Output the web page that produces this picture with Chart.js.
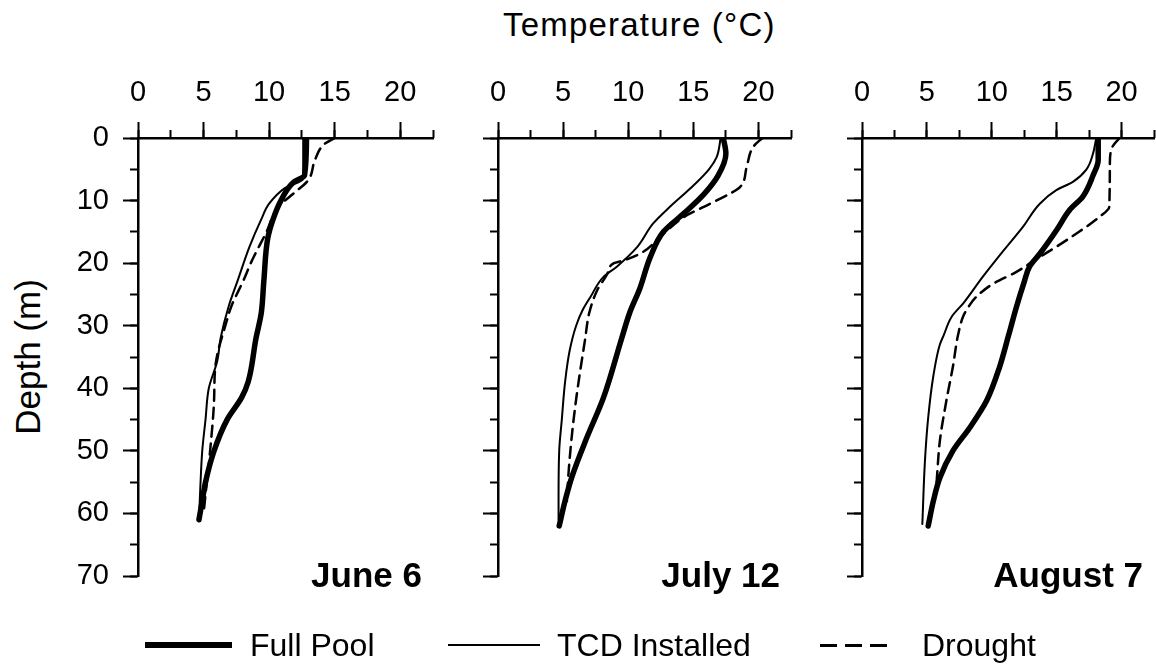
<!DOCTYPE html>
<html>
<head>
<meta charset="utf-8">
<script src="https://cdn.jsdelivr.net/npm/chart.js@4/dist/chart.umd.min.js"></script>
<style>
  html, body { margin:0; padding:0; background:#fff; }
  body { width:1156px; height:668px; position:relative; overflow:hidden; font-family:"Liberation Sans", Arial, sans-serif; color:#000; }
  canvas { position:absolute; top:0; }
  .txt { position:absolute; white-space:nowrap; }
</style>
</head>
<body>
<div class="txt" id="title" style="left:503px; top:8px; font-size:33px; line-height:33px; letter-spacing:1.2px;">Temperature (°C)</div>
<div class="txt" id="ytitle" style="left:27px; top:357px; font-size:35px; line-height:35px; transform:translate(-50%,-50%) rotate(-90deg);">Depth (m)</div>

<canvas id="c1"></canvas>
<canvas id="c2"></canvas>
<canvas id="c3"></canvas>

<div id="legend"></div>

<script>
// ---------------- DATA ----------------
const panelLabels = ['June 6', 'July 12', 'August 7'];
const seriesNames = ['Full Pool', 'TCD Installed', 'Drought'];
const tempTicks = [0, 5, 10, 15, 20];
const depthTicks = [0, 10, 20, 30, 40, 50, 60, 70];

// June 6
const junFullDepth = [0, 6, 7, 10, 13, 16, 22.8, 28, 32, 39, 41.5, 45, 50, 55, 58, 61];
const junFullTemp  = [12.85, 12.7, 11.9, 10.9, 10.3, 9.9, 9.6, 9.4, 9.0, 8.4, 7.9, 6.8, 5.8, 5.15, 4.9, 4.65];
const junTcdDepth  = [0, 6.5, 8, 10.5, 13, 17.4, 22.8, 27, 32, 35.6, 40, 45, 50, 56, 61];
const junTcdTemp   = [12.6, 12.6, 11.2, 10.0, 9.4, 8.5, 7.6, 6.9, 6.3, 6.05, 5.4, 5.15, 4.9, 4.75, 4.65];
const junDryDepth  = [0, 1, 3.5, 6.7, 8.8, 11, 15, 20, 22.5, 27, 29, 36.5, 42, 50, 57, 60];
const junDryTemp   = [15.0, 14.2, 13.5, 13.0, 11.9, 10.7, 9.8, 8.6, 8.1, 7.1, 6.8, 5.9, 5.8, 5.5, 5.15, 5.0];

// July 12
const julFullDepth = [0, 2.5, 6, 9, 12, 15, 19, 24, 28, 32, 41.5, 48, 54, 58, 62];
const julFullTemp  = [17.3, 17.5, 16.9, 15.8, 14.3, 12.7, 11.7, 10.9, 10.1, 9.5, 8.1, 6.8, 5.7, 5.15, 4.7];
const julTcdDepth  = [0, 3, 5, 8, 11, 13.7, 17.4, 20.6, 22.2, 25.4, 27.5, 30, 34, 39, 45, 50, 58, 61];
const julTcdTemp   = [17.1, 16.8, 16.2, 14.8, 13.2, 11.9, 10.7, 9.1, 8.1, 7.1, 6.5, 6.0, 5.5, 5.15, 4.9, 4.7, 4.65, 4.65];
const julDryDepth  = [0, 1.4, 4.6, 7.8, 8.9, 11, 12.6, 15.3, 18.5, 19.6, 20, 21.7, 24.4, 28, 32, 41, 47, 54, 58];
const julDryTemp   = [20.3, 19.6, 19.1, 18.6, 17.8, 15.8, 14.3, 12.7, 10.9, 9.6, 8.9, 8.4, 7.6, 7.0, 6.7, 6.05, 5.7, 5.4, 5.3];

// August 7
const augFullDepth = [0, 3.5, 6, 9.4, 11.5, 14.7, 18.5, 20.6, 23, 27, 31.5, 36.6, 42, 46.3, 50, 54.3, 58, 62];
const augFullTemp  = [18.2, 18.2, 17.8, 17.0, 16.0, 15.0, 13.7, 12.9, 12.5, 11.9, 11.3, 10.6, 9.6, 8.3, 7.0, 6.0, 5.5, 5.1];
const augTcdDepth  = [0, 2.5, 5, 7, 8.3, 10.5, 14.2, 18, 22.2, 26.3, 28.6, 31.5, 33, 38, 44.7, 51.6, 61.7];
const augTcdTemp   = [18.05, 17.8, 17.3, 16.25, 15.0, 13.7, 12.4, 10.9, 9.3, 7.85, 6.9, 6.3, 6.0, 5.5, 5.1, 4.85, 4.65];
const augDryDepth  = [0, 1.4, 4, 11, 12.6, 15.3, 18, 19, 21.4, 23.3, 25.4, 27, 28.5, 31.5, 36.6, 42, 48.4, 55];
const augDryTemp   = [19.85, 19.3, 19.1, 19.05, 18.3, 16.5, 14.5, 13.7, 11.9, 10.1, 8.8, 8.2, 7.8, 7.4, 7.0, 6.5, 6.0, 5.75];

// ---------------- STYLE / LAYOUT ----------------
const FONT = '"Liberation Sans", Arial, sans-serif';
const seriesStyles = [
  { borderWidth: 5.5, borderDash: [] },
  { borderWidth: 2, borderDash: [] },
  { borderWidth: 2.5, borderDash: [11, 7] }
];
const AXIS_W = 138, AXIS_H = 138, BOTTOM_PAD = 92;
const panels = [
  { id: 'c1', left: 138, width: 295, padR: 10, yLabels: true },
  { id: 'c2', left: 498, width: 293, padR: 10, yLabels: false },
  { id: 'c3', left: 862, width: 292, padR: 2,  yLabels: false }
];

function pts(depths, temps) {
  return depths.map((d, i) => ({ x: temps[i], y: d }));
}
const panelData = [
  [pts(junFullDepth, junFullTemp), pts(junTcdDepth, junTcdTemp), pts(junDryDepth, junDryTemp)],
  [pts(julFullDepth, julFullTemp), pts(julTcdDepth, julTcdTemp), pts(julDryDepth, julDryTemp)],
  [pts(augFullDepth, augFullTemp), pts(augTcdDepth, augTcdTemp), pts(augDryDepth, augDryTemp)]
];

const dateLabelPlugin = {
  id: 'dateLabel',
  afterDraw(chart, args, opts) {
    const { ctx, chartArea } = chart;
    ctx.save();
    ctx.font = 'bold 35px ' + FONT;
    ctx.fillStyle = '#000';
    ctx.textAlign = 'right';
    ctx.textBaseline = 'alphabetic';
    ctx.fillText(opts.text, chartArea.right - 11, chartArea.bottom + 11);
    ctx.restore();
  }
};

panels.forEach((p, idx) => {
  const canvas = document.getElementById(p.id);
  const cw = AXIS_W + p.width + p.padR;
  canvas.width = cw; canvas.height = 668;
  canvas.style.width = cw + 'px'; canvas.style.height = '668px';
  canvas.style.left = (p.left - AXIS_W) + 'px';

  const datasets = panelData[idx].map((data, s) => ({
    label: seriesNames[s],
    data: data,
    borderColor: '#000',
    backgroundColor: '#000',
    borderWidth: seriesStyles[s].borderWidth,
    borderDash: seriesStyles[s].borderDash,
    borderCapStyle: 'round',
    borderJoinStyle: 'round',
    pointRadius: 0,
    fill: false,
    cubicInterpolationMode: 'monotone',
    xAxisID: 'x',
    yAxisID: 'y'
  }));

  new Chart(canvas, {
    type: 'line',
    data: { datasets },
    plugins: [dateLabelPlugin],
    options: {
      indexAxis: 'y',
      responsive: false,
      animation: false,
      devicePixelRatio: 1,
      layout: { padding: { top: 0, left: 0, right: p.padR, bottom: BOTTOM_PAD } },
      plugins: {
        legend: { display: false },
        tooltip: { enabled: false },
        dateLabel: { text: panelLabels[idx] }
      },
      scales: {
        x: {
          type: 'linear', position: 'top', min: 0, max: 22.5, weight: 1,
          afterFit: s => { s.height = AXIS_H; },
          afterBuildTicks: s => { s.ticks = tempTicks.map(v => ({ value: v })); },
          border: { display: true, color: '#000', width: 2.5 },
          grid: { drawOnChartArea: false, drawTicks: true, tickLength: 16, tickWidth: 2, tickColor: '#000' },
          ticks: { color: '#000', font: { family: FONT, size: 29 }, padding: 12, maxRotation: 0, autoSkip: false, includeBounds: false }
        },
        x2: {
          type: 'linear', axis: 'x', position: 'top', min: 0, max: 22.5, weight: 0,
          afterFit: s => { s.height = 0; },
          border: { display: false },
          grid: { drawOnChartArea: false, drawTicks: true, tickLength: 8, tickWidth: 2, tickColor: '#000' },
          ticks: { stepSize: 2.5, display: false, autoSkip: false }
        },
        y: {
          type: 'linear', position: 'left', min: 0, max: 70, reverse: true, weight: 1,
          afterFit: s => { s.width = AXIS_W; },
          afterBuildTicks: s => { s.ticks = depthTicks.map(v => ({ value: v })); },
          border: { display: true, color: '#000', width: 2.5 },
          grid: { drawOnChartArea: false, drawTicks: true, tickLength: 15, tickWidth: 2, tickColor: '#000' },
          ticks: { display: p.yLabels, color: '#000', font: { family: FONT, size: 29 }, padding: 14, autoSkip: false }
        },
        y2: {
          type: 'linear', axis: 'y', position: 'left', min: 0, max: 70, reverse: true, weight: 0,
          afterFit: s => { s.width = 0; },
          border: { display: false },
          grid: { drawOnChartArea: false, drawTicks: true, tickLength: 8, tickWidth: 2, tickColor: '#000' },
          ticks: { stepSize: 5, display: false, autoSkip: false }
        }
      }
    }
  });
});

// ---------------- LEGEND (HTML) ----------------
const legendItems = [
  { name: seriesNames[0], lineLeft: 145, lineWidth: 87, thick: 6, dashed: false, textLeft: 250 },
  { name: seriesNames[1], lineLeft: 448, lineWidth: 92, thick: 2.5, dashed: false, textLeft: 557 },
  { name: seriesNames[2], lineLeft: 820, lineWidth: 67, thick: 3, dashed: true, textLeft: 922 }
];
const legend = document.getElementById('legend');
legendItems.forEach(it => {
  const line = document.createElement('div');
  line.style.position = 'absolute';
  line.style.left = it.lineLeft + 'px';
  line.style.top = (645 - it.thick / 2) + 'px';
  line.style.width = it.lineWidth + 'px';
  line.style.height = it.thick + 'px';
  line.style.background = it.dashed
    ? 'repeating-linear-gradient(to right, #000 0 17px, transparent 17px 25px)'
    : '#000';
  legend.appendChild(line);
  const t = document.createElement('div');
  t.className = 'txt';
  t.style.left = it.textLeft + 'px';
  t.style.top = '627px';
  t.style.fontSize = '32px';
  t.style.lineHeight = '36px';
  t.textContent = it.name;
  legend.appendChild(t);
});
</script>
</body>
</html>
